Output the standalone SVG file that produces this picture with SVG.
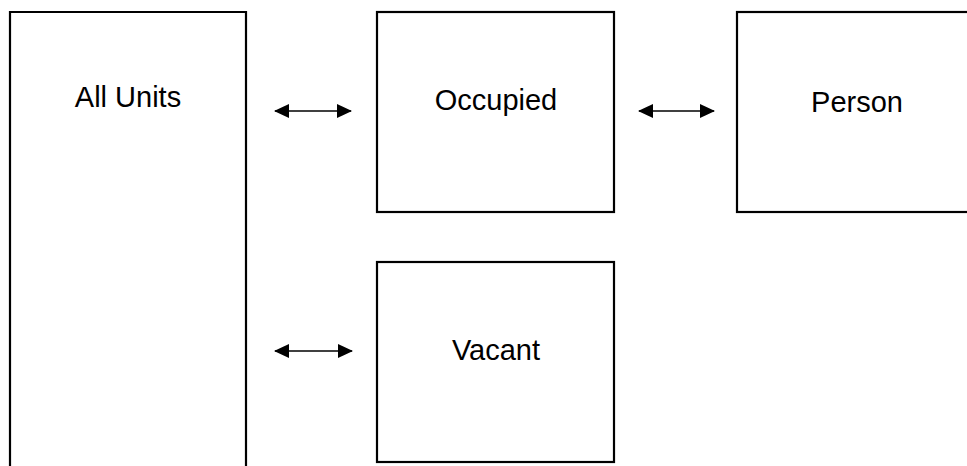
<svg xmlns="http://www.w3.org/2000/svg" width="967" height="466" viewBox="0 0 967 466">
<style>
.box{fill:#fff;stroke:#000;stroke-width:2.2}
.lbl{font-family:"Liberation Sans",Arial,sans-serif;font-size:29px;fill:#000;text-anchor:middle}
.con{stroke:#000;stroke-width:1.3;fill:none;marker-start:url(#ah);marker-end:url(#ah)}
</style>
<defs>
<marker id="ah" viewBox="0 0 15 14" refX="14" refY="7" markerWidth="15" markerHeight="14" markerUnits="userSpaceOnUse" orient="auto-start-reverse">
<path d="M0,0 L15,7 L0,14 Z" fill="#000"/>
</marker>
</defs>
<rect width="967" height="466" fill="#fff"/>
<g id="all-units">
<path class="box" d="M10,470 V12 H246 V470"/>
<text class="lbl" x="128" y="107">All Units</text>
</g>
<g id="occupied">
<rect class="box" x="377" y="12" width="237" height="200"/>
<text class="lbl" x="496" y="110">Occupied</text>
</g>
<g id="person">
<rect class="box" x="737" y="12" width="240" height="200"/>
<text class="lbl" x="857" y="112">Person</text>
</g>
<g id="vacant">
<rect class="box" x="377" y="262" width="237" height="200"/>
<text class="lbl" x="496" y="360">Vacant</text>
</g>
<g id="connectors">
<line class="con" x1="275" y1="111" x2="351" y2="111"/>
<line class="con" x1="639" y1="111" x2="714" y2="111"/>
<line class="con" x1="275" y1="351" x2="352" y2="351"/>
</g>
</svg>
